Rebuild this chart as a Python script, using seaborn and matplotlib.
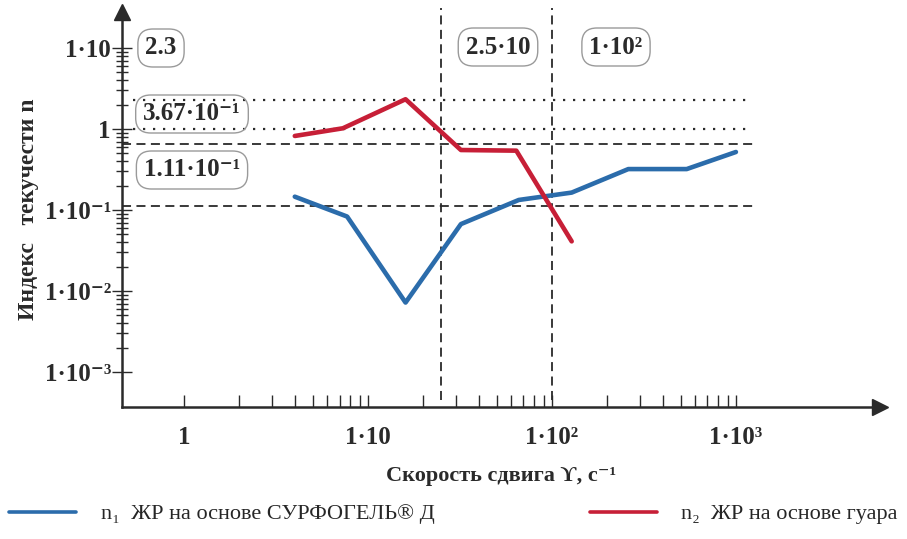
import pandas as pd
import seaborn as sns
import matplotlib.pyplot as plt
from matplotlib.ticker import FixedLocator, FixedFormatter, NullFormatter

# shear rate (1/s) and flow index n
shear_surf = [4, 7.7, 16, 32, 66, 128, 260, 540, 1000]
n_surf = [0.146, 0.083, 0.0072, 0.067, 0.133, 0.164, 0.32, 0.32, 0.52]
shear_guar = [4, 7.3, 16, 32, 64, 128]
n_guar = [0.82, 1.02, 2.33, 0.55, 0.54, 0.041]

label_surf = 'n₁  ЖР на основе СУРФОГЕЛЬ® Д'
label_guar = 'n₂  ЖР на основе гуара'

# reference levels
dotted_levels = [2.3, 1.0]
dashed_levels = [0.65, 0.111]
vert_levels = [25, 100]

xticks = [1, 10, 100, 1000]
xticklabels = ['1', '1·10', '1·10²', '1·10³']
yticks = [0.001, 0.01, 0.1, 1, 10]
yticklabels = ['1·10⁻³', '1·10⁻²', '1·10⁻¹', '1', '1·10']

boxes = [('2.3', 161, 48), ('3.67·10⁻¹', 192, 114), ('1.11·10⁻¹', 192, 170),
         ('2.5·10', 498, 47), ('1·10²', 616, 47)]

blue = '#2b6cab'
red = '#c71f37'
dark = '#2a2a2a'

df = pd.concat([
    pd.DataFrame({'shear': shear_surf, 'n': n_surf, 'series': label_surf}),
    pd.DataFrame({'shear': shear_guar, 'n': n_guar, 'series': label_guar}),
])

sns.set_style('white')
plt.rcParams['font.family'] = ['Liberation Serif', 'DejaVu Serif']

W, H = 907, 539
fig = plt.figure(figsize=(W / 100, H / 100), dpi=100)
ax = fig.add_axes([122 / W, 1 - 407 / H, 758 / W, 395 / H])

sns.lineplot(data=df, x='shear', y='n', hue='series', palette=[blue, red],
             linewidth=3.3, estimator=None, sort=False, ax=ax, zorder=3)

ax.set_xscale('log')
ax.set_yscale('log')
ax.set_xlim(0.46, 6070)
ax.set_ylim(3.7e-4, 27.8)

for v in dotted_levels:
    ax.axhline(v, xmin=0.0145, xmax=0.826, color=dark, ls=(0, (1, 3.5)), lw=1.6)
for v in dashed_levels:
    ax.axhline(v, xmin=0.0, xmax=0.838, color=dark, ls=(0, (5, 3)), lw=1.3)
for v in vert_levels:
    ax.axvline(v, ymin=0.018, ymax=1.01, color=dark, ls=(0, (5, 3)), lw=1.3, clip_on=False)

# axes with arrows
for s in ['top', 'right']:
    ax.spines[s].set_visible(False)
for s in ['left', 'bottom']:
    ax.spines[s].set_color(dark)
    ax.spines[s].set_linewidth(1.8)
ax.plot(1, 0, '>', transform=ax.transAxes, clip_on=False, color=dark, ms=11)
ax.plot(0, 1, '^', transform=ax.transAxes, clip_on=False, color=dark, ms=11)

ax.xaxis.set_major_locator(FixedLocator(xticks))
ax.xaxis.set_major_formatter(FixedFormatter(xticklabels))
ax.xaxis.set_minor_locator(FixedLocator([m * d for d in [1, 10, 100] for m in range(2, 10)]))
ax.xaxis.set_minor_formatter(NullFormatter())
ax.yaxis.set_major_locator(FixedLocator(yticks))
ax.yaxis.set_major_formatter(FixedFormatter(yticklabels))
ax.yaxis.set_minor_locator(FixedLocator([m * d for d in [0.001, 0.01, 0.1, 1] for m in range(2, 10)]))
ax.yaxis.set_minor_formatter(NullFormatter())

ax.tick_params(axis='x', which='both', bottom=True, direction='in', length=9, width=1, color=dark,
               pad=14, labelsize=18, labelcolor=dark)
ax.tick_params(axis='y', which='major', left=True, direction='inout', length=14, width=1, color=dark,
               pad=1, labelsize=18, labelcolor=dark)
ax.tick_params(axis='y', which='minor', left=True, direction='inout', length=9, width=1, color=dark)
for t in ax.get_xticklabels() + ax.get_yticklabels():
    t.set_fontweight('bold')

ax.set_xlabel('Скорость сдвига ϒ, с⁻¹', fontsize=16, fontweight='bold', color=dark, labelpad=12)
ax.set_ylabel('Индекс   текучести n', fontsize=17, fontweight='bold', color=dark, labelpad=4)

for txt, px, py in boxes:
    fig.text(px / W, 1 - py / H, txt, ha='center', va='center', fontsize=18,
             fontweight='bold', color=dark,
             bbox=dict(boxstyle='round,pad=0.3,rounding_size=0.6', fc='none', ec='#9a9a9a', lw=1))

sns.move_legend(ax, 'lower center', bbox_to_anchor=(0.5, -0.01), bbox_transform=fig.transFigure,
                ncol=2, frameon=False, title=None, fontsize=16, handlelength=3.0,
                columnspacing=7, handletextpad=1.1)
for h in ax.get_legend().get_lines():
    h.set_linewidth(2.6)

fig.savefig('out.png', dpi=100)
